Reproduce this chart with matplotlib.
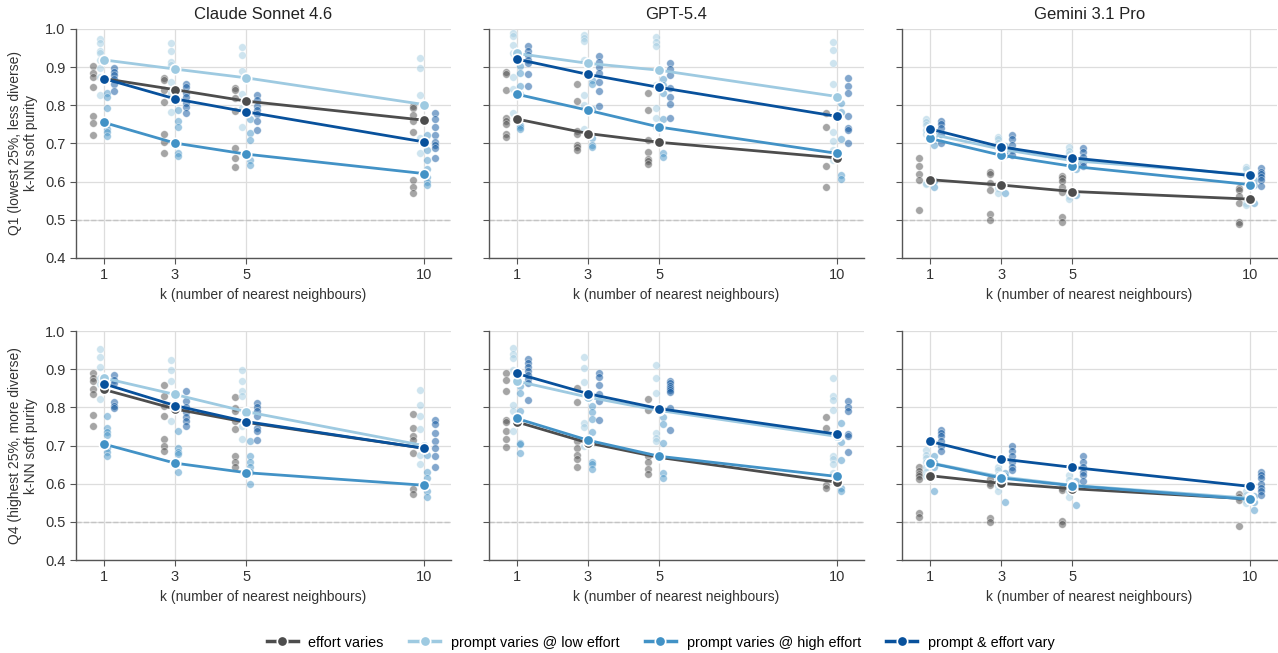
import numpy as np
import matplotlib.pyplot as plt
from matplotlib.lines import Line2D

plt.rcParams['font.family'] = ['Liberation Sans', 'DejaVu Sans']

k_values = [1, 3, 5, 10]
models = ['Claude Sonnet 4.6', 'GPT-5.4', 'Gemini 3.1 Pro']
row_labels = ['Q1 (lowest 25%, less diverse)\nk-NN soft purity',
              'Q4 (highest 25%, more diverse)\nk-NN soft purity']
series_labels = ['effort varies', 'prompt varies @ low effort',
                 'prompt varies @ high effort', 'prompt & effort vary']
colors = ['#4d4d4d', '#9ecae1', '#4292c6', '#08519c']

# means per series (effort, prompt low, prompt high, both) at k = 1, 3, 5, 10
claude_q1_means = [[0.870, 0.841, 0.811, 0.761],
                   [0.919, 0.895, 0.872, 0.802],
                   [0.755, 0.701, 0.672, 0.621],
                   [0.870, 0.817, 0.783, 0.704]]
gpt_q1_means = [[0.764, 0.726, 0.703, 0.662],
                [0.936, 0.910, 0.892, 0.823],
                [0.829, 0.787, 0.743, 0.674],
                [0.921, 0.881, 0.847, 0.771]]
gemini_q1_means = [[0.605, 0.591, 0.574, 0.554],
                   [0.725, 0.685, 0.655, 0.618],
                   [0.713, 0.669, 0.640, 0.592],
                   [0.738, 0.691, 0.662, 0.616]]
claude_q4_means = [[0.847, 0.796, 0.761, 0.693],
                   [0.877, 0.834, 0.789, 0.700],
                   [0.704, 0.654, 0.629, 0.596],
                   [0.862, 0.805, 0.763, 0.693]]
gpt_q4_means = [[0.762, 0.707, 0.669, 0.604],
                [0.869, 0.827, 0.792, 0.724],
                [0.771, 0.714, 0.672, 0.619],
                [0.889, 0.836, 0.797, 0.730]]
gemini_q4_means = [[0.621, 0.601, 0.587, 0.560],
                   [0.655, 0.618, 0.596, 0.562],
                   [0.654, 0.615, 0.595, 0.559],
                   [0.711, 0.665, 0.643, 0.593]]

# individual runs, per series then per k
claude_q1_pts = [
    [[0.904, 0.884, 0.875, 0.848, 0.773, 0.754, 0.721],
     [0.872, 0.866, 0.840, 0.809, 0.724, 0.704, 0.674],
     [0.846, 0.840, 0.818, 0.786, 0.687, 0.663, 0.639],
     [0.798, 0.792, 0.774, 0.759, 0.731, 0.605, 0.586, 0.569]],
    [[0.973, 0.964, 0.943, 0.936, 0.919, 0.899, 0.875, 0.827],
     [0.962, 0.943, 0.914, 0.906, 0.862, 0.831, 0.783],
     [0.952, 0.931, 0.890, 0.829, 0.794, 0.744],
     [0.925, 0.897, 0.827, 0.715, 0.674]],
    [[0.833, 0.822, 0.794, 0.752, 0.739, 0.729, 0.719],
     [0.787, 0.759, 0.744, 0.676, 0.667],
     [0.763, 0.728, 0.709, 0.656, 0.643],
     [0.722, 0.682, 0.656, 0.632, 0.612, 0.599, 0.591]],
    [[0.897, 0.888, 0.879, 0.868, 0.857, 0.838],
     [0.855, 0.849, 0.831, 0.821, 0.805, 0.796, 0.780],
     [0.827, 0.814, 0.798, 0.787, 0.777, 0.759, 0.735],
     [0.780, 0.763, 0.744, 0.722, 0.704, 0.696, 0.687, 0.661]]]
gpt_q1_pts = [
    [[0.888, 0.881, 0.840, 0.767, 0.759, 0.750, 0.724, 0.716],
     [0.857, 0.811, 0.732, 0.726, 0.697, 0.691, 0.682],
     [0.831, 0.787, 0.709, 0.678, 0.658, 0.654, 0.646],
     [0.781, 0.744, 0.640, 0.586]],
    [[0.990, 0.982, 0.958, 0.936, 0.875, 0.844, 0.780],
     [0.984, 0.976, 0.969, 0.920, 0.827, 0.801, 0.739],
     [0.978, 0.967, 0.956, 0.853, 0.792, 0.766, 0.744],
     [0.965, 0.945, 0.910, 0.856, 0.729, 0.706, 0.684, 0.656]],
    [[0.903, 0.885, 0.851, 0.829, 0.748, 0.742, 0.737],
     [0.866, 0.857, 0.789, 0.713, 0.696, 0.691],
     [0.870, 0.853, 0.833, 0.763, 0.674, 0.665],
     [0.807, 0.783, 0.711, 0.617, 0.606]],
    [[0.956, 0.942, 0.932, 0.920, 0.910, 0.883, 0.851],
     [0.930, 0.913, 0.901, 0.884, 0.862, 0.837, 0.799],
     [0.910, 0.895, 0.880, 0.846, 0.821, 0.804, 0.767],
     [0.871, 0.851, 0.831, 0.772, 0.741, 0.735, 0.700]]]
gemini_q1_pts = [
    [[0.662, 0.642, 0.621, 0.604, 0.525],
     [0.626, 0.620, 0.596, 0.579, 0.514, 0.500],
     [0.615, 0.610, 0.601, 0.586, 0.572, 0.507, 0.493],
     [0.582, 0.577, 0.563, 0.545, 0.493, 0.489]],
    [[0.764, 0.757, 0.748, 0.735, 0.726, 0.597, 0.593],
     [0.717, 0.711, 0.702, 0.687, 0.582, 0.569],
     [0.690, 0.681, 0.673, 0.658, 0.561, 0.554],
     [0.639, 0.632, 0.617, 0.543, 0.538]],
    [[0.731, 0.722, 0.696, 0.601, 0.585],
     [0.693, 0.680, 0.669, 0.569],
     [0.657, 0.645, 0.634, 0.564],
     [0.604, 0.591, 0.543]],
    [[0.760, 0.751, 0.740, 0.726, 0.702],
     [0.722, 0.711, 0.696, 0.682, 0.669],
     [0.687, 0.678, 0.665, 0.652, 0.640],
     [0.635, 0.626, 0.620, 0.613, 0.604, 0.589]]]
claude_q4_pts = [
    [[0.891, 0.877, 0.869, 0.848, 0.834, 0.781, 0.752],
     [0.860, 0.829, 0.805, 0.777, 0.717, 0.700, 0.685],
     [0.827, 0.799, 0.790, 0.764, 0.743, 0.672, 0.658, 0.645],
     [0.783, 0.746, 0.726, 0.714, 0.680, 0.587, 0.573]],
    [[0.952, 0.933, 0.906, 0.877, 0.862, 0.823],
     [0.924, 0.899, 0.869, 0.764],
     [0.899, 0.869, 0.842, 0.831, 0.752, 0.717],
     [0.845, 0.807, 0.777, 0.744, 0.676, 0.652]],
    [[0.778, 0.746, 0.735, 0.728, 0.693, 0.682, 0.673],
     [0.737, 0.693, 0.683, 0.678, 0.630],
     [0.711, 0.672, 0.658, 0.645, 0.630, 0.600],
     [0.676, 0.632, 0.615, 0.582, 0.564]],
    [[0.886, 0.873, 0.864, 0.813, 0.805, 0.799],
     [0.842, 0.816, 0.801, 0.787, 0.775, 0.764, 0.752],
     [0.812, 0.801, 0.790, 0.777, 0.746, 0.739, 0.715],
     [0.766, 0.756, 0.733, 0.711, 0.693, 0.672, 0.645]]]
gpt_q4_pts = [
    [[0.891, 0.873, 0.842, 0.768, 0.761, 0.737, 0.717, 0.696],
     [0.851, 0.813, 0.711, 0.693, 0.676, 0.665, 0.645],
     [0.823, 0.792, 0.672, 0.658, 0.639, 0.626],
     [0.774, 0.746, 0.597, 0.590]],
    [[0.956, 0.939, 0.930, 0.899, 0.807, 0.790, 0.737],
     [0.933, 0.904, 0.866, 0.759, 0.749, 0.700],
     [0.912, 0.877, 0.838, 0.733, 0.720, 0.711],
     [0.877, 0.829, 0.820, 0.792, 0.672, 0.665, 0.652, 0.628]],
    [[0.857, 0.838, 0.790, 0.708, 0.705, 0.680],
     [0.803, 0.787, 0.770, 0.735, 0.658, 0.652, 0.639],
     [0.775, 0.757, 0.707, 0.628, 0.615],
     [0.759, 0.709, 0.661, 0.588, 0.580]],
    [[0.927, 0.917, 0.906, 0.895, 0.886, 0.875, 0.864, 0.820],
     [0.891, 0.880, 0.860, 0.836, 0.816, 0.768],
     [0.869, 0.863, 0.857, 0.851, 0.845, 0.840, 0.799, 0.740],
     [0.818, 0.801, 0.790, 0.730, 0.726, 0.683]]]
gemini_q4_pts = [
    [[0.645, 0.634, 0.626, 0.619, 0.612, 0.523, 0.514],
     [0.612, 0.603, 0.597, 0.511, 0.499],
     [0.588, 0.584, 0.501, 0.495],
     [0.573, 0.566, 0.558, 0.489]],
    [[0.689, 0.676, 0.667, 0.658, 0.645, 0.632, 0.619],
     [0.645, 0.637, 0.623, 0.610, 0.593, 0.580],
     [0.623, 0.610, 0.597, 0.580, 0.566],
     [0.580, 0.571, 0.558, 0.549]],
    [[0.672, 0.658, 0.645, 0.581],
     [0.628, 0.619, 0.553],
     [0.606, 0.594, 0.545],
     [0.568, 0.553, 0.531]],
    [[0.742, 0.733, 0.724, 0.711, 0.700, 0.685],
     [0.698, 0.685, 0.672, 0.658, 0.645, 0.637],
     [0.672, 0.658, 0.645, 0.632, 0.623, 0.606],
     [0.630, 0.623, 0.615, 0.600, 0.588, 0.580, 0.571]]]

panels = [[(claude_q1_means, claude_q1_pts), (gpt_q1_means, gpt_q1_pts), (gemini_q1_means, gemini_q1_pts)],
          [(claude_q4_means, claude_q4_pts), (gpt_q4_means, gpt_q4_pts), (gemini_q4_means, gemini_q4_pts)]]

offsets = [-0.3, -0.1, 0.1, 0.3]  # dodge for the individual runs
spine_col = '#555555'

fig, axes = plt.subplots(2, 3, figsize=(12.78, 6.53), dpi=100, sharey=True)
fig.subplots_adjust(left=0.0595, right=0.999, bottom=0.1424, top=0.9556,
                    wspace=0.103, hspace=0.32)

for r in range(2):
    for c in range(3):
        ax = axes[r][c]
        means, pts = panels[r][c]
        ax.axhline(0.5, color='#c4c4c4', ls='--', lw=1, zorder=1)
        for s in range(4):
            for j, k in enumerate(k_values):
                y = pts[s][j]
                ax.scatter([k + offsets[s]] * len(y), y, s=30, color=colors[s],
                           alpha=0.5, edgecolors='white', linewidths=0.5, zorder=2)
        for s in range(4):
            ax.plot(k_values, means[s], color=colors[s], lw=2, marker='o', ms=7.5,
                    mec='white', mew=1.2, zorder=3 + s)

        ax.set_xlim(0.22, 10.75)
        ax.set_ylim(0.4, 1.0)
        ax.set_xticks(k_values)
        ax.set_yticks(np.round(np.arange(0.4, 1.01, 0.1), 1))
        ax.grid(True, color='#dddddd', lw=0.9, zorder=0)
        ax.set_axisbelow(True)
        for sp in ['top', 'right']:
            ax.spines[sp].set_visible(False)
        for sp in ['left', 'bottom']:
            ax.spines[sp].set_color(spine_col)
            ax.spines[sp].set_linewidth(1.0)
        ax.tick_params(colors=spine_col, labelcolor='#333333', labelsize=10.5, length=4)
        ax.set_xlabel('k (number of nearest neighbours)', fontsize=10, color='#333333')
        if r == 0:
            ax.set_title(models[c], fontsize=12, color='#222222', pad=7)
        if c == 0:
            ax.set_ylabel(row_labels[r], fontsize=10, color='#333333', labelpad=5)

handles = [Line2D([0], [0], color=colors[s], lw=2.5, marker='o', ms=7.5,
                  mec='white', mew=1.2) for s in range(4)]
fig.legend(handles, series_labels, loc='center', bbox_to_anchor=(0.517, 0.016),
           ncol=4, frameon=False, fontsize=10.4, handlelength=2.15,
           handletextpad=0.75, columnspacing=1.75)

plt.savefig('out.png', dpi=100)
